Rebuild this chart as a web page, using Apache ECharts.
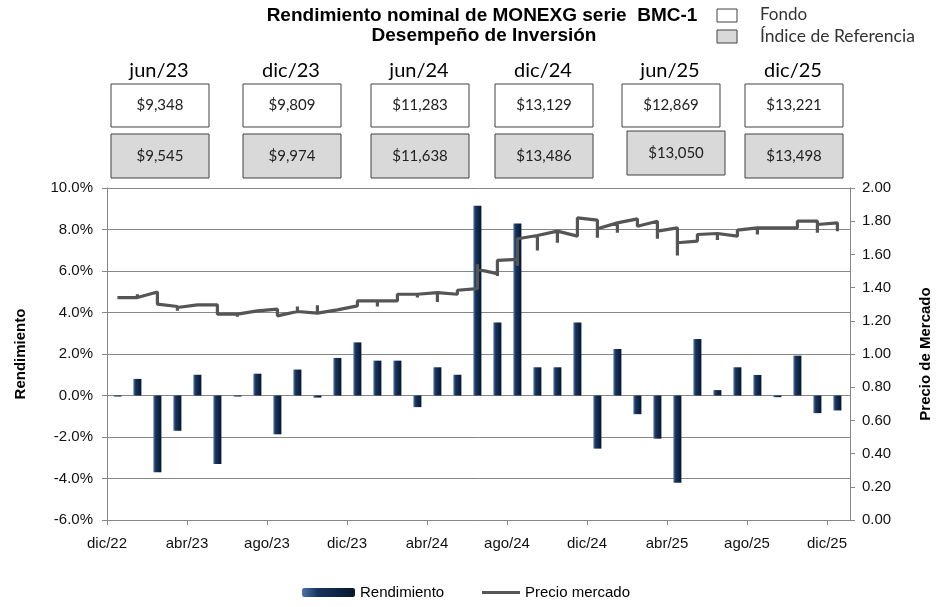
<!DOCTYPE html>
<html>
<head>
<meta charset="utf-8">
<script src="https://cdn.jsdelivr.net/npm/echarts@6/dist/echarts.min.js"></script>
<style>
  html, body { margin: 0; padding: 0; background: #fff; }
  #grafica { width: 937px; height: 607px; }
</style>
</head>
<body>
<div id="grafica"></div>
<script>
// meses del eje (indice 0 = dic/22)
var meses = ['dic/22', 'ene/23', 'feb/23', 'mar/23', 'abr/23', 'may/23', 'jun/23', 'jul/23', 'ago/23', 'sep/23', 'oct/23', 'nov/23',
  'dic/23', 'ene/24', 'feb/24', 'mar/24', 'abr/24', 'may/24', 'jun/24', 'jul/24', 'ago/24', 'sep/24', 'oct/24', 'nov/24',
  'dic/24', 'ene/25', 'feb/25', 'mar/25', 'abr/25', 'may/25', 'jun/25', 'jul/25', 'ago/25', 'sep/25', 'oct/25', 'nov/25', 'dic/25'];

// rendimiento mensual (%)
var rendimiento = [-0.05, 0.8, -3.7, -1.7, 1.0, -3.3, -0.05, 1.05, -1.87, 1.25, -0.1, 1.81, 2.56,
  1.68, 1.68, -0.56, 1.36, 1.0, 9.15, 3.52, 8.29, 1.36, 1.36, 3.52, -2.56, 2.24, -0.9, -2.08, -4.21,
  2.72, 0.26, 1.36, 0.99, -0.08, 1.92, -0.85, -0.72];

// precio de mercado en cada corte: valor al llegar, pico del dia, valor al salir
var precioLlegada = [null, 1.34, 1.374, 1.286, 1.296, 1.296, 1.24, 1.26, 1.27, 1.256, 1.246, 1.266, 1.29,
  1.32, 1.32, 1.36, 1.37, 1.36, 1.394, 1.484, 1.57, 1.714, 1.74, 1.71, 1.806, 1.79, 1.814, 1.80, 1.76,
  1.68, 1.726, 1.71, 1.76, 1.76, 1.76, 1.80, 1.79];
var precioPico = [null, 1.36, null, 1.26, null, null, 1.225, null, null, 1.286, 1.294, null, 1.28,
  1.286, null, 1.34, 1.314, null, 1.54, 1.47, 1.53, 1.624, 1.67, null, 1.70, 1.73, 1.82, 1.694, 1.594,
  null, 1.686, null, 1.72, 1.75, null, 1.73, 1.74];
var precioSalida = [1.34, 1.34, 1.30, 1.28, 1.296, 1.24, 1.24, 1.26, 1.23, 1.256, 1.246, 1.266, 1.32,
  1.32, 1.36, 1.36, 1.37, 1.384, 1.51, 1.564, 1.694, 1.714, 1.74, 1.82, 1.754, 1.79, 1.77, 1.74, 1.67,
  1.72, 1.726, 1.746, 1.76, 1.76, 1.80, 1.78, null];

// cuadros de desempeno
var periodos = ['jun/23', 'dic/23', 'jun/24', 'dic/24', 'jun/25', 'dic/25'];
var fondo = ['$9,348', '$9,809', '$11,283', '$13,129', '$12,869', '$13,221'];
var indice = ['$9,545', '$9,974', '$11,638', '$13,486', '$13,050', '$13,498'];

// posicion de los cuadros (solo maquetacion)
var cajaX = [111, 243, 371, 495, 622, 745];
var cajaGrisDx = [0, 0, 0, 0, 5, 0];
var cajaGrisDy = [0, 0, 0, 0, -3, 0];

var fuente = "'Liberation Sans', Arial, sans-serif";
var fuenteCal = "Lato, 'Open Sans', sans-serif";

var barras = rendimiento.map(function (v, i) { return [i + 0.52, v]; });
var linea = [];
meses.forEach(function (m, i) {
  var x = i + 0.52;
  if (precioLlegada[i] != null) linea.push([x, precioLlegada[i]]);
  if (precioPico[i] != null) linea.push([x, precioPico[i]]);
  if (precioSalida[i] != null) linea.push([x, precioSalida[i]]);
});

var graficos = [
  { type: 'text', x: 482, y: 6, style: { text: 'Rendimiento nominal de MONEXG serie  BMC-1', font: 'bold 19px ' + fuente, fill: '#000', textAlign: 'center' } },
  { type: 'text', x: 484, y: 26, style: { text: 'Desempeño de Inversión', font: 'bold 19px ' + fuente, fill: '#000', textAlign: 'center' } },
  { type: 'rect', shape: { x: 717, y: 9, width: 20, height: 13 }, style: { fill: '#fff', stroke: '#404040', lineWidth: 1 } },
  { type: 'text', x: 760, y: 6, style: { text: 'Fondo', font: '17px ' + fuenteCal, fill: '#333' } },
  { type: 'rect', shape: { x: 717, y: 30, width: 20, height: 13 }, style: { fill: '#d9d9d9', stroke: '#404040', lineWidth: 1 } },
  { type: 'text', x: 760, y: 27, style: { text: 'Índice de Referencia', font: '17.5px ' + fuenteCal, fill: '#333' } }
];
periodos.forEach(function (p, i) {
  var x = cajaX[i];
  graficos.push({ type: 'text', x: x + 48, y: 61, style: { text: p, font: '20px ' + fuenteCal, fill: '#000', textAlign: 'center' } });
  graficos.push({ type: 'rect', shape: { x: x, y: 84, width: 98, height: 43 }, style: { fill: '#fff', stroke: '#404040', lineWidth: 1 } });
  graficos.push({ type: 'text', x: x + 49, y: 105, style: { text: fondo[i], font: '15px ' + fuenteCal, fill: '#222', textAlign: 'center', textVerticalAlign: 'middle' } });
  var gx = x + cajaGrisDx[i], gy = 134 + cajaGrisDy[i];
  graficos.push({ type: 'rect', shape: { x: gx, y: gy, width: 98, height: 44 }, style: { fill: '#d9d9d9', stroke: '#404040', lineWidth: 1 } });
  graficos.push({ type: 'text', x: gx + 49, y: gy + 22, style: { text: indice[i], font: '15px ' + fuenteCal, fill: '#222', textAlign: 'center', textVerticalAlign: 'middle' } });
});

var chart = echarts.init(document.getElementById('grafica'), null, { renderer: 'canvas' });
chart.setOption({
  backgroundColor: '#fff',
  animation: false,
  textStyle: { fontFamily: fuente },
  graphic: graficos,
  grid: { left: 107, right: 87, top: 188, bottom: 87, containLabel: false, outerBoundsMode: 'none' },
  legend: [
    { data: ['Rendimiento'], left: 297, bottom: 2, itemWidth: 53, itemHeight: 9, itemGap: 4,
      textStyle: { fontFamily: fuente, fontSize: 15, color: '#000' } },
    { data: [{ name: 'Precio mercado', icon: 'rect' }], left: 477, bottom: 2, itemWidth: 38, itemHeight: 3, itemGap: 4,
      textStyle: { fontFamily: fuente, fontSize: 15, color: '#000' } }
  ],
  xAxis: {
    type: 'value', min: 0, max: 37.15, interval: 4,
    axisLine: { onZero: false, lineStyle: { color: '#868686' } },
    axisTick: { show: true, length: 5, lineStyle: { color: '#868686' } },
    splitLine: { show: false },
    axisLabel: {
      showMaxLabel: false, margin: 16, fontSize: 15, color: '#111', fontFamily: fuente,
      formatter: function (v) { return meses[v] || ''; }
    }
  },
  yAxis: [
    {
      type: 'value', min: -6, max: 10, interval: 2, position: 'left',
      name: 'Rendimiento', nameLocation: 'middle', nameRotate: 90, nameGap: 79,
      nameTextStyle: { fontFamily: fuente, fontSize: 15, fontWeight: 'bold', color: '#000' },
      axisLine: { show: true, lineStyle: { color: '#868686' } },
      axisTick: { show: true, length: 5, lineStyle: { color: '#868686' } },
      splitLine: { lineStyle: { color: '#868686', width: 1 } },
      axisLabel: { fontSize: 15, color: '#111', margin: 14, fontFamily: fuente, formatter: function (v) { return v.toFixed(1) + '%'; } }
    },
    {
      type: 'value', min: 0, max: 2, interval: 0.2, position: 'right',
      name: 'Precio de Mercado', nameLocation: 'middle', nameRotate: 90, nameGap: 68,
      nameTextStyle: { fontFamily: fuente, fontSize: 15, fontWeight: 'bold', color: '#000' },
      axisLine: { show: true, lineStyle: { color: '#868686' } },
      axisTick: { show: true, length: 5, lineStyle: { color: '#868686' } },
      splitLine: { show: false },
      axisLabel: { fontSize: 15, color: '#111', margin: 12, fontFamily: fuente, formatter: function (v) { return v.toFixed(2); } }
    }
  ],
  series: [
    {
      name: 'Rendimiento', type: 'bar', yAxisIndex: 0, barWidth: 8, data: barras,
      itemStyle: {
        color: new echarts.graphic.LinearGradient(0, 0, 1, 0, [
          { offset: 0, color: '#4d74a8' },
          { offset: 0.3, color: '#16335c' },
          { offset: 1, color: '#08172e' }
        ])
      }
    },
    {
      name: 'Precio mercado', type: 'line', yAxisIndex: 1, data: linea, symbol: 'none',
      lineStyle: { color: '#555555', width: 3.2 }, itemStyle: { color: '#555555' }, z: 5
    }
  ]
});
</script>
</body>
</html>
